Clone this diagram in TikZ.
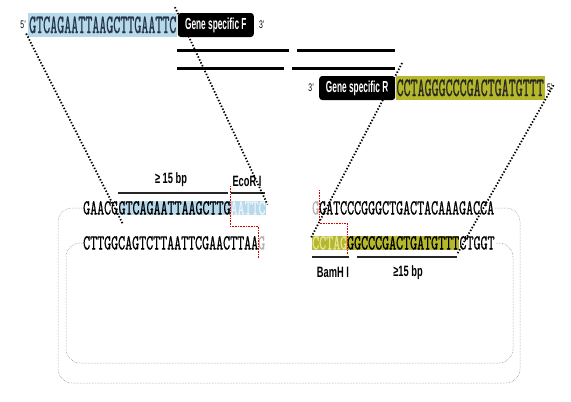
\documentclass[tikz,border=0pt]{standalone}
\usepackage{fontspec}
\usetikzlibrary{positioning,calc}
\newfontfamily\primerfont[FakeStretch=0.5, FakeBold=0.6]{lmmono10-regular.otf}
\newfontfamily\seqfont[FakeStretch=0.62, FakeBold=0.6]{lmmono10-regular.otf}
\newfontfamily\namefont[FakeStretch=0.52]{Liberation Sans}
\newfontfamily\tagfont[FakeStretch=0.62]{Liberation Sans}
\definecolor{fwdblue}{RGB}{182,217,236}
\definecolor{revolive}{RGB}{180,184,42}
\definecolor{ghost}{RGB}{178,178,178}
\definecolor{paleblue}{RGB}{238,244,248}
\definecolor{paleolive}{RGB}{228,228,160}
\definecolor{inkblue}{RGB}{38,52,72}
\begin{document}
\begin{tikzpicture}[x=1pt, y=-1pt]
    \tikzstyle{primer} = [inner xsep=1pt, inner ysep=4pt, text height=16pt, text depth=0pt, font=\fontsize{26.7}{27}\primerfont]
    \tikzstyle{genebox} = [fill=black, text=white, rounded corners=3pt, minimum width=76pt, minimum height=24pt, inner sep=0pt, font=\fontsize{16}{16}\namefont\bfseries]
    \tikzstyle{prime} = [inner sep=1pt, font=\fontsize{11}{11}\tagfont]
    \tikzstyle{seq} = [inner xsep=0pt, inner ysep=0.5pt, text height=13pt, text depth=0pt, font=\fontsize{21.5}{22}\seqfont]
    \tikzstyle{tag} = [inner sep=0pt, font=\fontsize{15}{15}\tagfont\bfseries]
    \tikzstyle{guide} = [line width=1.8pt, dash pattern=on 1.4pt off 1.8pt]
    \tikzstyle{strand} = [line width=3pt]
    \tikzstyle{bpline} = [line width=1.1pt, black!85]
    \tikzstyle{cut} = [red!85!black, densely dotted, line width=0.6pt]
    \tikzstyle{ring} = [gray, densely dotted, line width=0.5pt, rounded corners=14pt]

    \useasboundingbox (0,0) rectangle (571,402);

    % primers
    \node [primer, fill=fwdblue, text=inkblue, anchor=west] (fwdseq) at (28,25) {GTCAGAATTAAGCTTGAATTC};
    \node [genebox, right=0pt of fwdseq] (fwdname) {Gene specific F};
    \node [prime, left=1pt of fwdseq] (fwd5) {5’};
    \node [prime, right=4pt of fwdname] (fwd3) {3’};

    \node [genebox, anchor=west] (revname) at (319,88) {Gene specific R};
    \node [primer, fill=revolive, text=black!85, right=0pt of revname] (revseq) {CCTAGGGCCCGACTGATGTTT};
    \node [prime, left=4pt of revname] (rev3) {3’};
    \node [prime, right=1pt of revseq] (rev5) {5’};

    \draw [strand] (177,50) -- (289,50);
    \draw [strand] (297,50) -- (395,50);
    \draw [strand] (177,68) -- (284,68);
    \draw [strand] (292,68) -- (395,68);

    % vector ends
    \node [seq, anchor=west] (vecTopL) at (83,208) {GAACG};
    \node [seq, fill=fwdblue, right=0pt of vecTopL] (insF) {GTCAGAATTAAGCTTG\textcolor{paleblue}{AATTC}};
    \node [seq, anchor=west] (vecBotL) at (83,243) {CTTGGCAGTCTTAATTCGAACTTAA\textcolor{ghost}{G}};
    \node [seq, anchor=west] (vecTopR) at (312,208) {\textcolor{ghost}{G}GATCCCGGGCTGACTACAAAGACCA};
    \node [seq, fill=revolive, anchor=west] (insR) at (312,243) {\textcolor{paleolive}{CCTAG}GGCCCGACTGATGTTT};
    \node [seq, right=0pt of insR] (vecBotR) {CTGGT};

    \draw [ring] (vecTopL.west) -| (58,383) -| (520,208) -- (vecTopR.east);
    \draw [ring] (vecBotL.west) -| (66,363) -| (513,243) -- (vecBotR.east);

    \draw [cut] (230,186) -- (230,226) -- (258,226) -- (258,258);
    \draw [cut] (319,190) -- (319,223) -- (347,223) -- (347,254);

    \draw [bpline] (118,193) -- (228,193);
    \draw [bpline] (231,193) -- (265,193);
    \draw [bpline] (312,257) -- (349,257);
    \draw [bpline] (357,257) -- (457,257);
    \node [tag] (len1) at (171,180) {≥ 15 bp};
    \node [tag] (eco) at (247,181) {EcoR I};
    \node [tag] (bam) at (333,272) {BamH I};
    \node [tag] (len2) at (408,273) {≥15 bp};

    % homology arms
    \draw [guide] ($(fwdseq.south west)!-0.02!(insF.south west)$) -- ($(fwdseq.south west)!1.05!(insF.south west)$);
    \draw [guide] ($(fwdseq.north east)!-0.03!(insF.north east)$) -- ($(fwdseq.north east)!1.02!(insF.north east)$);
    \draw [guide] ($(revseq.north west)!-0.08!(insR.north west)$) -- ($(revseq.north west)!1.01!(insR.north west)$);
    \draw [guide] ($(revseq.south east)!-0.1!(insR.south east)$) -- ($(revseq.south east)!1.02!(insR.south east)$);
\end{tikzpicture}
\end{document}
